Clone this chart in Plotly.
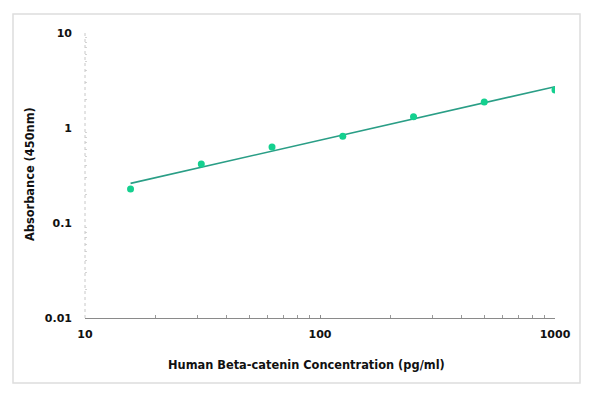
import numpy as np
import plotly.graph_objects as go

# Data
concentration = [15.625, 31.25, 62.5, 125, 250, 500, 1000]
absorbance = [0.228, 0.418, 0.63, 0.82, 1.31, 1.88, 2.51]
x_tick_vals = [10, 100, 1000]
x_tick_text = ["10", "100", "1000"]
y_tick_vals = [0.01, 0.1, 1, 10]
y_tick_text = ["0.01", "0.1", "1", "10"]
x_minor_vals = [20, 30, 40, 50, 60, 70, 80, 90, 200, 300, 400, 500, 600, 700, 800, 900]
y_minor_vals = [0.02, 0.03, 0.04, 0.05, 0.06, 0.07, 0.08, 0.09,
                0.2, 0.3, 0.4, 0.5, 0.6, 0.7, 0.8, 0.9,
                2, 3, 4, 5, 6, 7, 8, 9]

# log-log linear fit
coef = np.polyfit(np.log10(concentration), np.log10(absorbance), 1)
fit_x = [concentration[0], concentration[-1]]
fit_y = [10 ** np.polyval(coef, np.log10(v)) for v in fit_x]

# page has an 8px body margin
OFF = 8
W, H = 600 - 2 * OFF, 395 - 2 * OFF
L, R, T, B = 85, 555, 33, 318

fig = go.Figure()
fig.add_trace(go.Scatter(x=fit_x, y=fit_y, mode="lines",
                         line=dict(color="#2a9e86", width=1.6),
                         hoverinfo="skip", showlegend=False))
fig.add_trace(go.Scatter(x=concentration, y=absorbance, mode="markers",
                         marker=dict(color="#14d08f", size=7),
                         showlegend=False))

FAM = "DejaVu Sans, Verdana, sans-serif"
tickfont = dict(family=FAM, size=11, color="#111", weight="bold")

fig.update_layout(
    width=W, height=H,
    margin=dict(l=L - OFF, r=(W + OFF) - R, t=T - OFF, b=(H + OFF) - B),
    paper_bgcolor="white", plot_bgcolor="white",
    font=dict(family=FAM, size=11, color="#111"),
    xaxis=dict(type="log", range=[1, 3], tickvals=x_tick_vals, ticktext=x_tick_text,
               showgrid=False, zeroline=False, showline=True, linecolor="#8a8a8a",
               linewidth=1, ticks="inside", ticklen=3, tickcolor="#8a8a8a",
               minor=dict(tickmode="array", tickvals=x_minor_vals, ticks="inside",
                          ticklen=3, tickcolor="#999", showgrid=False),
               tickfont=tickfont, ticklabelstandoff=6),
    yaxis=dict(type="log", range=[-2, 1], tickvals=y_tick_vals, ticktext=y_tick_text,
               showgrid=False, zeroline=False, showline=False, ticks="",
               minor=dict(tickmode="array", tickvals=y_minor_vals, ticks="inside",
                          ticklen=2, tickcolor="#d4d4d4", showgrid=False),
               tickfont=tickfont, ticklabelstandoff=12),
)

# dotted y axis line
fig.add_shape(type="line", xref="paper", yref="paper", x0=0, x1=0, y0=0, y1=1,
              line=dict(color="#c8c8c8", width=1, dash="dot"))

# outer frame
pw, ph = R - L, B - T
fig.add_shape(type="rect", xref="paper", yref="paper",
              x0=(13 - L) / pw, x1=(580 - L) / pw,
              y0=(B - 383) / ph, y1=(B - 14) / ph,
              line=dict(color="#dddddd", width=1.5))

# axis titles
fig.add_annotation(text="<b>Human Beta-catenin Concentration (pg/ml)</b>",
                   xref="paper", yref="paper",
                   x=(306 - L) / pw, y=(B - 365) / ph,
                   showarrow=False, xanchor="center", yanchor="middle",
                   font=dict(family=FAM, size=11.4, color="#111"))
fig.add_annotation(text="<b>Absorbance (450nm)</b>",
                   xref="paper", yref="paper",
                   x=(30 - L) / pw, y=(B - 174) / ph,
                   showarrow=False, textangle=-90, xanchor="center", yanchor="middle",
                   font=dict(family=FAM, size=11.4, color="#111"))

fig.write_html("out.html")
